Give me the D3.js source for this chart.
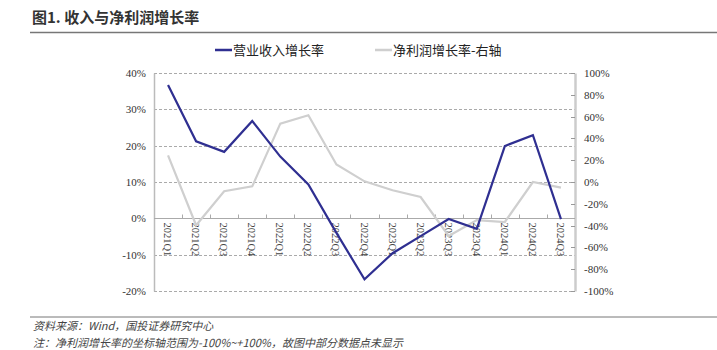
<!DOCTYPE html>
<html>
<head>
<meta charset="utf-8">
<script src="https://cdn.jsdelivr.net/npm/d3@7"></script>
<style>
  html, body { margin: 0; padding: 0; background: #fff; }
  svg { display: block; }
</style>
</head>
<body>
<svg id="chart" width="717" height="350"></svg>
<script>
// Quarterly growth rates (%)
const quarters = ["2021Q1","2021Q2","2021Q3","2021Q4","2022Q1","2022Q2","2022Q3","2022Q4",
                  "2023Q1","2023Q2","2023Q3","2023Q4","2024Q1","2024Q2","2024Q3"];
const revenueGrowth = [36.7, 21.2, 18.3, 26.8, 17.0, 9.3, -4.0, -16.8, -9.6, -4.9, -0.2, -2.9, 19.9, 22.9, -0.2];
const profitGrowth  = [24.5, -39.7, -8.5, -4.0, 53.6, 61.2, 16.0, 0.6, -7.6, -13.8, -49.5, -35.0, -36.7, 0.0, -5.2];
const leftTicks  = [40, 30, 20, 10, 0, -10, -20];
const rightTicks = [100, 80, 60, 40, 20, 0, -20, -40, -60, -80, -100];
const seriesNames = ["营业收入增长率", "净利润增长率-右轴"];
const titleText = "图1. 收入与净利润增长率";
const sourceLines = ["资料来源：Wind，国投证券研究中心",
                     "注：净利润增长率的坐标轴范围为-100%~+100%，故图中部分数据点未显示"];

const svg = d3.select("#chart");
const plot = { left: 154, right: 575, top: 73, bottom: 291 };
const serif = "'Liberation Serif','DejaVu Serif','Noto Sans CJK SC',serif";
const cjk = "'Noto Sans CJK SC','DejaVu Sans',sans-serif";

const x = d3.scaleBand().domain(quarters).range([plot.left, plot.right]);
const yL = d3.scaleLinear().domain([-20, 40]).range([plot.bottom, plot.top]);
const yR = d3.scaleLinear().domain([-100, 100]).range([plot.bottom, plot.top]);

// Title and rule
svg.append("text").attr("x", 32).attr("y", 23)
  .attr("font-family", cjk).attr("font-weight", "bold").attr("font-size", 15)
  .attr("fill", "#333").text(titleText);
svg.append("line").attr("x1", 30).attr("x2", 717).attr("y1", 32.5).attr("y2", 32.5)
  .attr("stroke", "#777").attr("stroke-width", 1.5);

// Dashed gridlines from the left axis
svg.append("g").selectAll("line").data(leftTicks.filter(d => d !== 0)).join("line")
  .attr("x1", plot.left).attr("x2", plot.right)
  .attr("y1", d => Math.round(yL(d)) + 0.5).attr("y2", d => Math.round(yL(d)) + 0.5)
  .attr("stroke", "#aaa").attr("stroke-dasharray", "3,2").attr("stroke-width", 1);

// Left axis
const leftAxis = svg.append("g").attr("transform", `translate(${plot.left},0)`)
  .call(d3.axisLeft(yL).tickValues(leftTicks).tickSize(0).tickPadding(8)
    .tickFormat(d => d + "%"));
leftAxis.select(".domain").attr("stroke", "#bbb").attr("stroke-width", 1.5);
leftAxis.selectAll("text").attr("font-family", serif).attr("font-size", 11).attr("fill", "#333");

// Right axis
const rightAxis = svg.append("g").attr("transform", `translate(${plot.right},0)`)
  .call(d3.axisRight(yR).tickValues(rightTicks).tickSize(0).tickPadding(9)
    .tickFormat(d => d + "%"));
rightAxis.select(".domain").attr("stroke", "#ccc").attr("stroke-width", 2.5);
rightAxis.selectAll("text").attr("font-family", serif).attr("font-size", 11).attr("fill", "#333");
svg.append("g").selectAll("line").data(rightTicks).join("line")
  .attr("x1", plot.right - 4).attr("x2", plot.right)
  .attr("y1", d => Math.round(yR(d)) + 0.5).attr("y2", d => Math.round(yR(d)) + 0.5)
  .attr("stroke", "#999");

// Category axis at zero
const zeroY = Math.round(yL(0)) + 0.5;
svg.append("line").attr("x1", plot.left).attr("x2", plot.right)
  .attr("y1", zeroY).attr("y2", zeroY).attr("stroke", "#aaa").attr("stroke-width", 1);
svg.append("g").selectAll("line").data(quarters.slice(1)).join("line")
  .attr("x1", d => Math.round(x(d)) + 0.5).attr("x2", d => Math.round(x(d)) + 0.5)
  .attr("y1", zeroY - 4).attr("y2", zeroY).attr("stroke", "#aaa");
svg.append("g").selectAll("text").data(quarters).join("text")
  .attr("transform", d => `translate(${x(d) + x.bandwidth() / 2 - 4},${zeroY + 4}) rotate(90)`)
  .attr("font-family", serif).attr("font-size", 10.5).attr("fill", "#444")
  .text(d => d);

// Series lines
const lineL = d3.line().x((d, i) => x(quarters[i]) + x.bandwidth() / 2).y(d => yL(d));
const lineR = d3.line().x((d, i) => x(quarters[i]) + x.bandwidth() / 2).y(d => yR(d));
svg.append("path").datum(profitGrowth).attr("d", lineR)
  .attr("fill", "none").attr("stroke", "#cfcfcf").attr("stroke-width", 2.2);
svg.append("path").datum(revenueGrowth).attr("d", lineL)
  .attr("fill", "none").attr("stroke", "#2f2f91").attr("stroke-width", 2.2);

// Legend
const legend = [
  { name: seriesNames[0], color: "#2f2f91", x: 215 },
  { name: seriesNames[1], color: "#cfcfcf", x: 375 }
];
const lg = svg.append("g").selectAll("g").data(legend).join("g");
lg.append("line").attr("x1", d => d.x).attr("x2", d => d.x + 17)
  .attr("y1", 50).attr("y2", 50).attr("stroke", d => d.color).attr("stroke-width", 2.5);
lg.append("text").attr("x", d => d.x + 18).attr("y", 55)
  .attr("font-family", cjk).attr("font-size", 13).attr("fill", "#222")
  .text(d => d.name);

// Source notes
svg.append("line").attr("x1", 30).attr("x2", 717).attr("y1", 317).attr("y2", 317)
  .attr("stroke", "#777").attr("stroke-width", 1);
svg.append("g").selectAll("text").data(sourceLines).join("text")
  .attr("x", 33).attr("y", (d, i) => 330 + i * 17)
  .attr("font-family", cjk).attr("font-style", "italic").attr("font-size", 11)
  .attr("fill", "#444").text(d => d);
</script>
</body>
</html>
